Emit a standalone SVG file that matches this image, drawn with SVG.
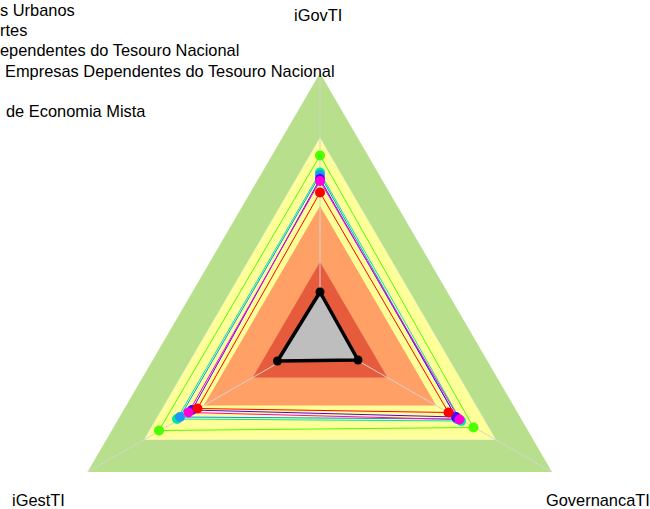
<svg xmlns="http://www.w3.org/2000/svg" width="650" height="509" viewBox="0 0 650 509">
<style>
text{font-family:"Liberation Sans",Arial,sans-serif;font-size:16.4px;fill:#000}
.axis{stroke:#d4d4d4;stroke-width:1;fill:none}
.ser{fill:none;stroke-width:1}
</style>
<rect width="650" height="509" fill="#fff"/>
<g id="bands">
<polygon points="320,73 87.5,472 552,472" fill="#b8e08c"/>
<polygon points="320,138.2 144.5,439.4 495.5,439.4" fill="#ffff99" stroke="#f4f4c8" stroke-width="0.8"/>
<polygon points="320,206 203.8,405.5 436.2,405.5" fill="#ffa066"/>
<polygon points="320,261.9 252.6,377.6 387.4,377.6" fill="#e55b3c"/>
</g>
<g id="axes">
<line class="axis" x1="320" y1="339" x2="320" y2="73"/>
<line class="axis" x1="320" y1="339" x2="87.5" y2="472"/>
<line class="axis" x1="320" y1="339" x2="552" y2="472"/>
</g>
<g id="connectors">
<polygon class="ser" stroke="#49ff00" points="320,155.5 159,430.5 473.5,427.5"/>
<polygon class="ser" stroke="#00e8a0" points="320,172.5 177,419 461,421"/>
<polygon class="ser" stroke="#0092ff" points="320,175 180,417 457,419"/>
<polygon class="ser" stroke="#4900ff" points="320,179 192,410 456,417"/>
<polygon class="ser" stroke="#ff00db" points="320,181 188.5,412.5 459.5,419.5"/>
<polygon class="ser" stroke="#ff0000" points="320,192.5 197.5,408.5 448.5,412.5"/>
<polygon fill="#bebebe" stroke="#000" stroke-width="3.5" stroke-linejoin="round" points="320,292 277.5,361 358,360"/>
</g>
<g id="node-green" fill="#49ff00">
<circle cx="320" cy="155.5" r="5"/><circle cx="159" cy="430.5" r="5"/><circle cx="473.5" cy="427.5" r="5"/>
</g>
<g id="node-teal" fill="#00e8a0">
<circle cx="320" cy="172.5" r="5"/><circle cx="177" cy="419" r="5"/><circle cx="461" cy="421" r="5"/>
</g>
<g id="node-blue" fill="#1e96f5">
<circle cx="320" cy="175" r="5"/><circle cx="180" cy="417" r="5"/><circle cx="457" cy="419" r="5"/>
</g>
<g id="node-purple" fill="#4900ff">
<circle cx="320" cy="179" r="5"/><circle cx="192" cy="410" r="5"/><circle cx="456" cy="417" r="5"/>
</g>
<g id="node-magenta" fill="#ff00db">
<circle cx="320" cy="181" r="5"/><circle cx="188.5" cy="412.5" r="5"/><circle cx="459.5" cy="419.5" r="5"/>
</g>
<g id="node-red" fill="#ff0000">
<circle cx="320" cy="192.5" r="5"/><circle cx="197.5" cy="408.5" r="5"/><circle cx="448.5" cy="412.5" r="5"/>
</g>
<g id="node-black" fill="#000">
<circle cx="320" cy="292" r="4.5"/><circle cx="277.5" cy="361" r="4.5"/><circle cx="358" cy="360" r="4.5"/>
</g>
<g id="labels">
<text x="294" y="21">iGovTI</text>
<text x="12" y="506">iGestTI</text>
<text x="546" y="506">GovernancaTI</text>
</g>
<g id="legend">
<text x="0" y="15.5">s Urbanos</text>
<text x="0" y="35.5">rtes</text>
<text x="0" y="56">ependentes do Tesouro Nacional</text>
<text x="5" y="76.5">Empresas Dependentes do Tesouro Nacional</text>
<text x="6" y="117">de Economia Mista</text>
</g>
</svg>
